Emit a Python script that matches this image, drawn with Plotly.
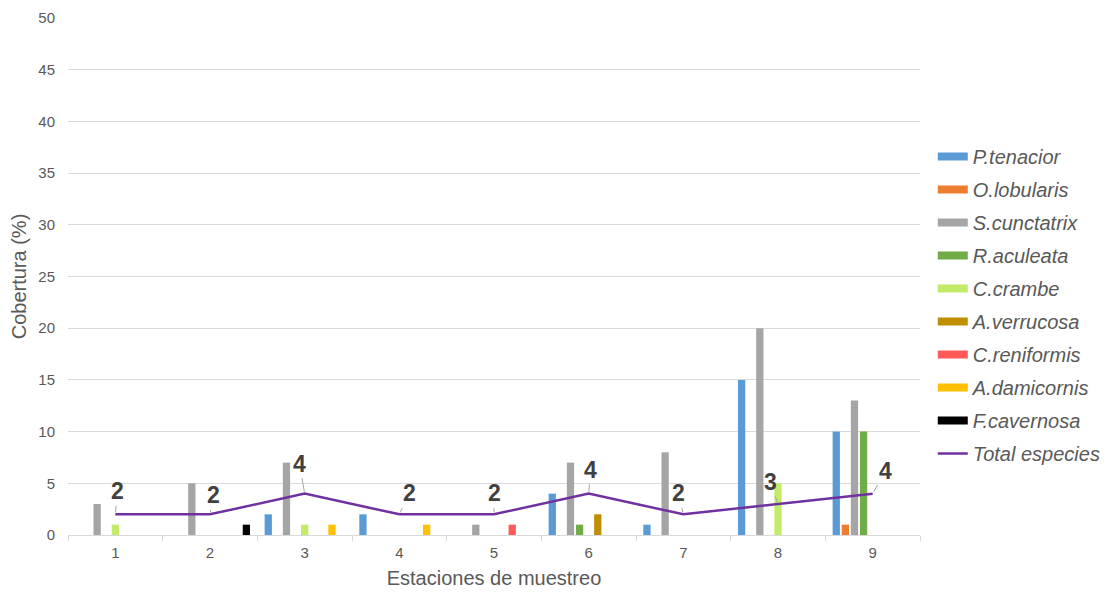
import plotly.graph_objects as go

estaciones = ["1", "2", "3", "4", "5", "6", "7", "8", "9"]

especies = [
    "P.tenacior", "O.lobularis", "S.cunctatrix", "R.aculeata", "C.crambe",
    "A.verrucosa", "C.reniformis", "A.damicornis", "F.cavernosa",
]

p_tenacior = [0, 0, 2, 2, 0, 4, 1, 15, 10]
o_lobularis = [0, 0, 0, 0, 0, 0, 0, 0, 1]
s_cunctatrix = [3, 5, 7, 0, 1, 7, 8, 20, 13]
r_aculeata = [0, 0, 0, 0, 0, 1, 0, 0, 10]
c_crambe = [1, 0, 1, 0, 0, 0, 0, 5, 0]
a_verrucosa = [0, 0, 0, 0, 0, 2, 0, 0, 0]
c_reniformis = [0, 0, 0, 0, 1, 0, 0, 0, 0]
a_damicornis = [0, 0, 1, 1, 0, 0, 0, 0, 0]
f_cavernosa = [0, 1, 0, 0, 0, 0, 0, 0, 0]

total_especies = [2, 2, 4, 2, 2, 4, 2, 3, 4]

series = [p_tenacior, o_lobularis, s_cunctatrix, r_aculeata, c_crambe,
          a_verrucosa, c_reniformis, a_damicornis, f_cavernosa]
colores = ["#5B9BD5", "#ED7D31", "#A5A5A5", "#70AD47", "#C2EB6A",
           "#BF8F00", "#FF5A5A", "#FFC000", "#000000"]

# label offsets (px) for the total-species labels
lbl_dx = [2, 3, -5, 10, 0, 2, -5, -8, 13]
lbl_dy = [-23, -19, -30, -21, -21, -24, -21, -22, -23]

FONT = "Liberation Sans, Arial"

fig = go.Figure()

for i, (nombre, vals, col) in enumerate(zip(especies, series, colores)):
    fig.add_trace(go.Bar(
        x=estaciones, y=vals, name=nombre, marker_color=col,
        marker_line_width=0, showlegend=False,
    ))

fig.add_trace(go.Scatter(
    x=estaciones, y=total_especies, name="Total especies", mode="lines",
    line=dict(color="#7030A0", width=2.5), showlegend=False,
))

# legend swatches drawn as wide rectangles
for i, (nombre, col) in enumerate(zip(especies, colores)):
    fig.add_trace(go.Scatter(
        x=[None], y=[None], mode="lines", name=nombre,
        line=dict(color=col, width=8), legendgroup=f"g{i}",
    ))
fig.add_trace(go.Scatter(
    x=[None], y=[None], mode="lines", name="Total especies",
    line=dict(color="#7030A0", width=2.5), legendgroup="g9",
))

for i, (yi, dx, dy) in enumerate(zip(total_especies, lbl_dx, lbl_dy)):
    fig.add_annotation(
        x=i, y=yi, text=f"<b>{yi}</b>", showarrow=True,
        ax=dx, ay=dy, arrowhead=0, arrowwidth=1, arrowcolor="#A6A6A6",
        standoff=2, startstandoff=0,
        font=dict(size=23, color="#404040", family=FONT),
    )

fig.update_layout(
    width=1118, height=594,
    margin=dict(l=68, r=198, t=18, b=59),
    paper_bgcolor="white", plot_bgcolor="white",
    barmode="group", bargap=0.135, bargroupgap=0.2,
    font=dict(family=FONT, color="#595959"),
    showlegend=True,
    legend=dict(
        x=1.015, xanchor="left", y=0.77, yanchor="top",
        font=dict(size=20, color="#595959", style="italic"),
        traceorder="grouped", tracegroupgap=4,
        bgcolor="rgba(0,0,0,0)",
    ),
    xaxis=dict(
        type="category", tickson="boundaries", ticks="outside", ticklen=5,
        tickcolor="#D9D9D9", showline=True, linecolor="#D9D9D9", linewidth=1,
        showgrid=False, tickfont=dict(size=15, color="#595959"),
        ticklabelstandoff=4, range=[-0.5, 8.5], automargin=False,
        title=dict(text="Estaciones de muestreo", font=dict(size=20, color="#595959"),
                   standoff=10),
    ),
    yaxis=dict(
        range=[0, 50], dtick=5, showgrid=True, gridcolor="#D9D9D9", gridwidth=1,
        zeroline=False, showline=False, ticks="", automargin=False,
        tickfont=dict(size=15, color="#595959"), ticklabelstandoff=12,
        title=dict(text="Cobertura (%)", font=dict(size=20, color="#595959"),
                   standoff=6),
    ),
)

fig.write_html("out.html")
